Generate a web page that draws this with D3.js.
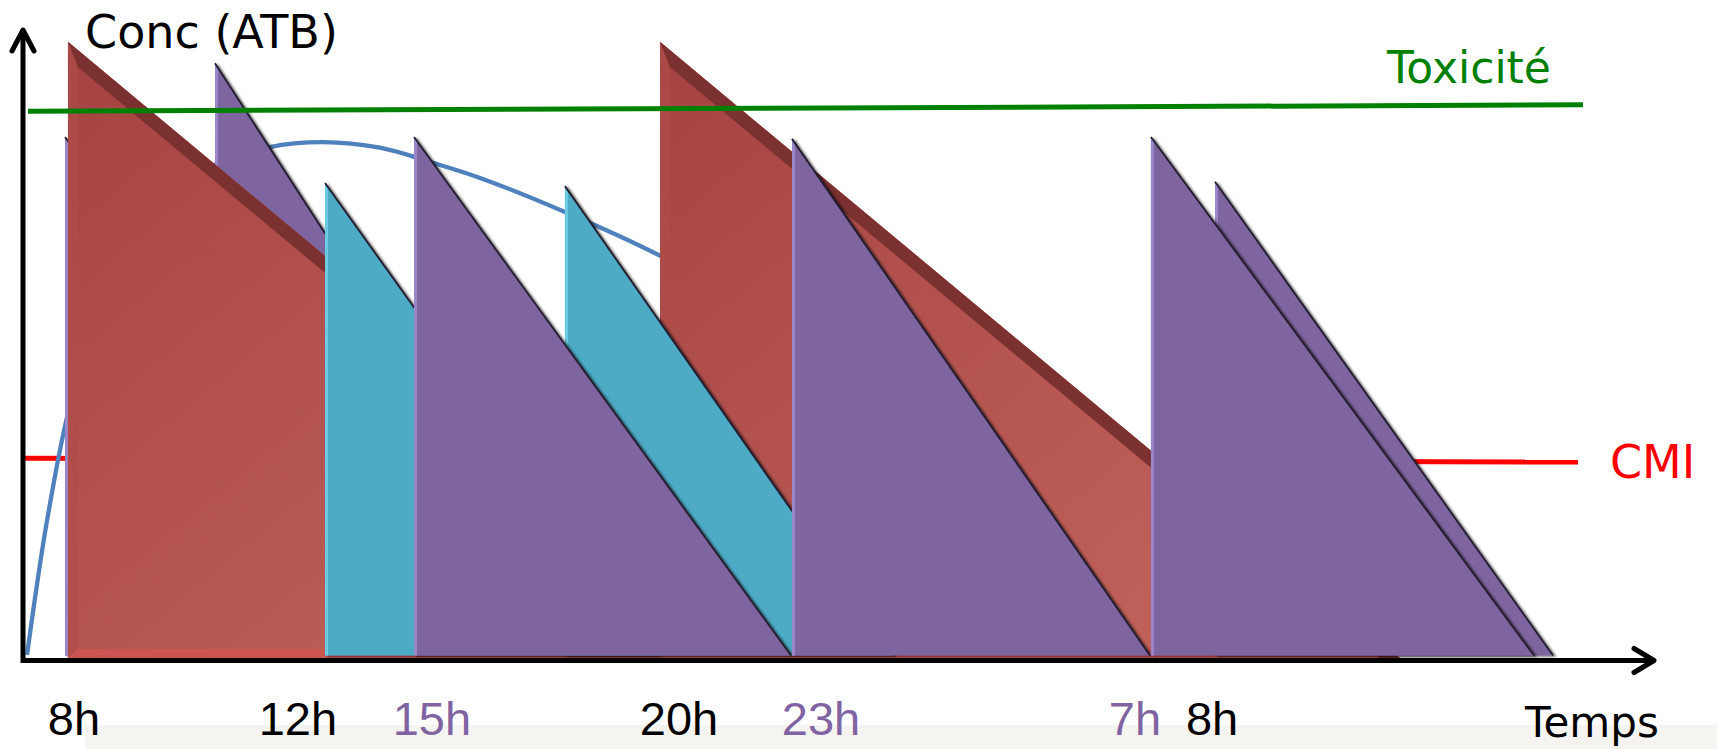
<!DOCTYPE html>
<html><head><meta charset="utf-8">
<script src="https://cdn.jsdelivr.net/npm/d3@7"></script>
<style>html,body{margin:0;padding:0;background:#fff;overflow:hidden}</style>
</head><body>
<svg id="chart" width="1717" height="749"></svg>
<script>
// ---- data (schematic time units 0..1000, concentration 0..100) ----
const doseDrug  = ["B","B","A","C","A","C","B","B","B","B"];
const doseStart = [26.4, 118.4, 28.2, 185.9, 391.4, 333.1, 240.5, 472.4, 731.9, 692.6];
const doseEnd   = [257.7, 353.4, 482.2, 393.3, 845.4, 534.4, 471.8, 692.0, 939.3, 927.6];
const dosePeak  = [82.7, 94.4, 97.8, 75.4, 97.8, 74.9, 82.7, 82.4, 75.6, 82.7];

const curveT = [3.1, 14.7, 28.2, 47.9, 78.5, 109.2, 152.1, 184.7, 219.6, 252.1, 281.0, 333.1, 392.6, 428.2];
const curveC = [0.5, 20.8, 38.9, 56.8, 70.3, 77.1, 81.1, 81.9, 81.0, 78.6, 76.2, 70.8, 63.7, 58.4];

const toxT = [3.7, 957.7];
const toxC = [86.8, 87.8];
const cmiT = [0, 954.6];
const cmiC = [31.7, 31.1];

const tickLabels = ["8h", "12h", "15h", "20h", "23h", "7h", "8h"];
const tickT      = [31.9, 169.3, 251.5, 403.1, 490.2, 682.8, 730.1];
const tickAlt    = [0, 0, 1, 0, 1, 1, 0];

const titleY = "Conc (ATB)", titleX = "Temps", labelTox = "Toxicité", labelCmi = "CMI";

// ---- scales ----
const W = 1717, H = 749;
const x = d3.scaleLinear().domain([0, 1000]).range([22, 1652]);
const y = d3.scaleLinear().domain([0, 100]).range([658, 28]);
const fillColor = d3.scaleOrdinal().domain(["A","B","C"]).range(["#ab4846", "#7f65a0", "#4eabc6"]);
const edgeColor = d3.scaleOrdinal().domain(["A","B","C"]).range(["#b04c4a", "#9a86c8", "#6ccbe2"]);
const tickColor = d3.scaleOrdinal().domain([0, 1]).range(["#000000", "#8064a2"]);

const svg = d3.select("#chart");
const defs = svg.append("defs");
const grad = defs.append("linearGradient").attr("id", "redGrad")
  .attr("x1", 0).attr("y1", 0).attr("x2", 1).attr("y2", 1);
grad.append("stop").attr("offset", 0).attr("stop-color", "#a54342");
grad.append("stop").attr("offset", 1).attr("stop-color", "#c6675f");
const f = defs.append("filter").attr("id", "shadow").attr("x", -0.1).attr("y", -0.1).attr("width", 1.3).attr("height", 1.3);
f.append("feDropShadow").attr("dx", 2.2).attr("dy", 1.2).attr("stdDeviation", 1.3)
  .attr("flood-color", "#000").attr("flood-opacity", 0.6);

// bottom grey band
svg.append("rect").attr("x", 85).attr("y", 725).attr("width", W - 85).attr("height", H - 725).attr("fill", "#f5f4f0");

// CMI line (behind)
svg.append("line")
  .attr("x1", x(cmiT[0])).attr("y1", y(cmiC[0])).attr("x2", x(cmiT[1])).attr("y2", y(cmiC[1]))
  .attr("stroke", "#ff0000").attr("stroke-width", 5);

// blue concentration curve (behind)
const curvePts = curveT.map((t, i) => [t, curveC[i]]);
svg.append("path").datum(curvePts)
  .attr("d", d3.line().x(d => x(d[0])).y(d => y(d[1])).curve(d3.curveCatmullRom.alpha(0.5)))
  .attr("fill", "none").attr("stroke", "#4f81bd").attr("stroke-width", 4.3);

// dose triangles
const doses = doseDrug.map((d, i) => ({drug: d, s: doseStart[i], e: doseEnd[i], p: dosePeak[i]}));
const g = svg.append("g");
doses.forEach(d => {
  const lift = d.drug === "A" ? 0 : 2.5;
  const x0 = x(d.s), x1 = x(d.e), yt = y(d.p), yb = y(0) - lift;
  const m = (yb - yt) / (x1 - x0);
  const tg = g.append("g");
  if (d.drug === "A") {
    tg.append("polygon").attr("points", [[x0, yb], [x0, yt], [x1, yb]].join(" ")).attr("fill", "url(#redGrad)");
    tg.append("polygon").attr("points", [[x0, yt], [x0 + 10, yt + 10 * m + 17], [x0 + 10, yb - 9], [x0, yb]].join(" "))
      .attr("fill", edgeColor(d.drug)).attr("opacity", 0.6);
    const cx = x1 - 17 / m;
    tg.append("polygon").attr("points", [[x0, yb], [cx, yb], [cx - 9 / m, yb - 9], [x0 + 10, yb - 9]].join(" "))
      .attr("fill", "#cb5551");
    tg.append("polygon").attr("points", [[x0, yt], [x1, yb], [cx, yb], [x0 + 10, yt + 10 * m + 17]].join(" "))
      .attr("fill", "#7b3130");
  } else {
    tg.attr("filter", "url(#shadow)");
    tg.append("polygon").attr("points", [[x0, yb], [x0, yt], [x1, yb]].join(" ")).attr("fill", fillColor(d.drug));
    tg.append("polygon").attr("points", [[x0, yt], [x0 + 3, yt + 3 * m], [x0 + 3, yb], [x0, yb]].join(" "))
      .attr("fill", edgeColor(d.drug));
    tg.append("line").attr("x1", x0).attr("y1", yt).attr("x2", x1).attr("y2", yb)
      .attr("stroke", "#231d2e").attr("stroke-width", 1.8);
  }
});

// toxicity line (on top)
svg.append("line")
  .attr("x1", x(toxT[0])).attr("y1", y(toxC[0])).attr("x2", x(toxT[1])).attr("y2", y(toxC[1]))
  .attr("stroke", "#008000").attr("stroke-width", 5);

// axes
const ax0 = x(0) + 1, ay0 = y(0) + 2.5;
const axTopY = 30, axRightX = 1654;
svg.append("path").attr("d", `M${ax0},${axTopY} L${ax0},${ay0} L${axRightX},${ay0}`)
  .attr("fill", "none").attr("stroke", "#000").attr("stroke-width", 5);
svg.append("path").attr("d", `M${ax0 - 11},${axTopY + 21} L${ax0},${axTopY} L${ax0 + 11},${axTopY + 21}`)
  .attr("fill", "none").attr("stroke", "#000").attr("stroke-width", 5).attr("stroke-linecap", "round").attr("stroke-linejoin", "round");
svg.append("path").attr("d", `M${axRightX - 20},${ay0 - 12} L${axRightX},${ay0} L${axRightX - 20},${ay0 + 12}`)
  .attr("fill", "none").attr("stroke", "#000").attr("stroke-width", 5).attr("stroke-linecap", "round").attr("stroke-linejoin", "round");

// texts
const word = "DejaVu Sans";
svg.append("text").attr("x", x(38.7)).attr("y", y(96.8)).text(titleY)
  .attr("font-family", word).attr("font-size", 46).attr("fill", "#000");
svg.append("text").attr("x", x(837.4)).attr("y", y(91.3)).text(labelTox)
  .attr("font-family", word).attr("font-size", 44).attr("fill", "#008000");
svg.append("text").attr("x", x(974.2)).attr("y", y(28.6)).text(labelCmi)
  .attr("font-family", word).attr("font-size", 46).attr("fill", "#ff0000");
svg.append("text").attr("x", x(922.1)).attr("y", y(-12.6)).text(titleX)
  .attr("font-family", word).attr("font-size", 42).attr("fill", "#000");

svg.append("g").selectAll("text").data(tickLabels).join("text")
  .attr("x", (d, i) => x(tickT[i])).attr("y", y(-12.2))
  .attr("text-anchor", "middle")
  .attr("font-family", "Liberation Sans").attr("font-size", 47)
  .attr("fill", (d, i) => tickColor(tickAlt[i]))
  .text(d => d);
</script>
</body></html>
